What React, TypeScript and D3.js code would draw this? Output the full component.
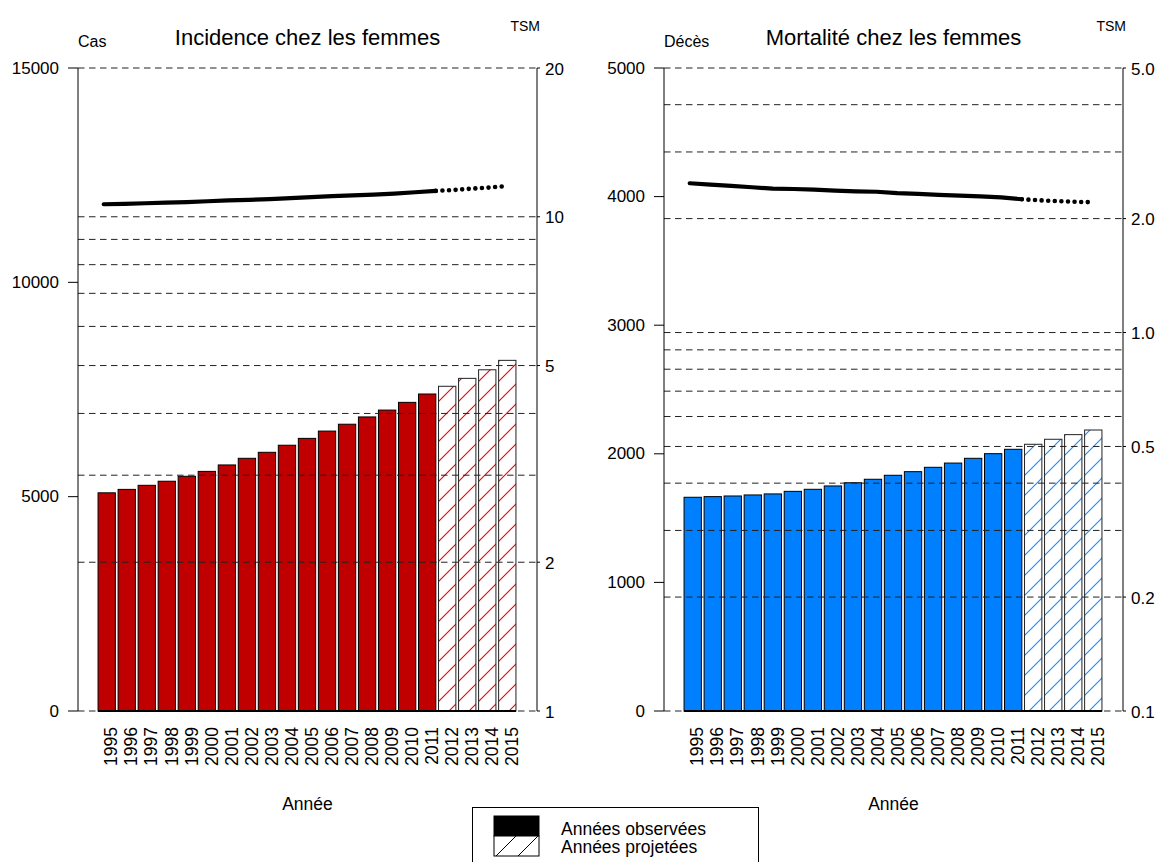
import React from 'react';
import * as d3 from 'd3';

// ---------- data ----------
const years = ['1995', '1996', '1997', '1998', '1999', '2000', '2001', '2002', '2003', '2004', '2005',
  '2006', '2007', '2008', '2009', '2010', '2011', '2012', '2013', '2014', '2015'];
const firstProjectedYear = '2012';

const incidenceCases = [5090, 5170, 5265, 5360, 5475, 5590, 5740, 5895, 6035, 6200, 6360,
  6530, 6690, 6860, 7020, 7200, 7395, 7575, 7760, 7960, 8180];
const mortalityDeaths = [1662, 1667, 1672, 1680, 1688, 1708, 1724, 1750, 1775, 1802, 1833,
  1861, 1895, 1928, 1965, 2001, 2035, 2074, 2113, 2149, 2185];

// TSM (standardised rates) – observed 1995–2011, projected 2012–2015
const incidenceTsmObserved = [10.60, 10.62, 10.65, 10.68, 10.71, 10.75, 10.79, 10.82, 10.86,
  10.91, 10.96, 11.01, 11.05, 11.09, 11.14, 11.21, 11.28];
const incidenceTsmProjected = [11.33, 11.40, 11.46, 11.54];
const mortalityTsmObserved = [2.48, 2.46, 2.44, 2.42, 2.40, 2.395, 2.385, 2.37, 2.36, 2.355,
  2.335, 2.325, 2.31, 2.30, 2.29, 2.275, 2.25];
const mortalityTsmProjected = [2.235, 2.225, 2.215, 2.21];

const incidenceLeftTicks = [0, 5000, 10000, 15000];
const mortalityLeftTicks = [0, 1000, 2000, 3000, 4000, 5000];
const incidenceTsmTicks = ['1', '2', '5', '10', '20'];
const mortalityTsmTicks = ['0.1', '0.2', '0.5', '1.0', '2.0', '5.0'];
const incidenceTsmGrid = [1, 2, 3, 4, 5, 6, 7, 8, 9, 10, 20];
const mortalityTsmGrid = [0.1, 0.2, 0.3, 0.4, 0.5, 0.6, 0.7, 0.8, 0.9, 1, 2, 3, 4, 5];

const legendLabels = ['Années observées', 'Années projetées'];

// ---------- layout ----------
const W = 1155;
const H = 862;
const TOP = 68;
const BOTTOM = 711;
const PLOT_L = 78;
const PLOT_R = 537;
const PANEL_OFFSET = 586;
const FONT = '"Liberation Sans", Arial, Helvetica, sans-serif';

interface PanelProps {
  dx: number;
  title: string;
  leftLabel: string;
  values: number[];
  leftMax: number;
  leftTicks: number[];
  tsmDomain: [number, number];
  tsmGrid: number[];
  tsmTicks: string[];
  tsmObs: number[];
  tsmProj: number[];
  fill: string;
  hatchId: string;
}

function Panel(p: PanelProps) {
  const L = PLOT_L + p.dx;
  const R = PLOT_R + p.dx;
  const x = d3.scaleBand<string>().domain(years)
    .range([L + 18.7, R - 19.7]).paddingInner(0.135).paddingOuter(0.0675);
  const bw = x.bandwidth();
  const y = d3.scaleLinear().domain([0, p.leftMax]).range([BOTTOM, TOP]);
  const yT = d3.scaleLog().domain(p.tsmDomain).range([BOTTOM, TOP]);
  const projIdx = years.indexOf(firstProjectedYear);
  const lastObsYear = +years[projIdx - 1];
  const xl = d3.scaleLinear()
    .domain([+years[0], lastObsYear, +years[years.length - 1]])
    .range([(x(years[0]) as number) + bw / 2 - 3, (x(String(lastObsYear)) as number) + bw,
      (x(years[years.length - 1]) as number) + bw / 2]);
  const line = d3.line<[number, number]>().x(d => xl(d[0])).y(d => yT(d[1])).curve(d3.curveLinear);
  const obsPts: [number, number][] = p.tsmObs.map((v, i) => [+years[i], v]);
  const projPts: [number, number][] = [[lastObsYear, p.tsmObs[p.tsmObs.length - 1]],
    ...p.tsmProj.map((v, i) => [+years[projIdx + i], v] as [number, number])];
  const cx = (L + R) / 2;

  return (
    <g>
      {/* bars */}
      {years.map((yr, i) => {
        const projected = i >= projIdx;
        return (
          <rect key={yr} x={x(yr)} y={y(p.values[i])} width={bw} height={BOTTOM - y(p.values[i])}
            fill={projected ? `url(#${p.hatchId})` : p.fill}
            stroke={projected ? '#222' : '#000'} strokeWidth={1} />
        );
      })}
      {/* gridlines */}
      {p.tsmGrid.map(v => (
        <line key={v} x1={L} x2={R} y1={yT(v)} y2={yT(v)} stroke="#222" strokeWidth={1}
          strokeDasharray="6.5,4.5" />
      ))}
      {/* baseline under bars */}
      <line x1={x(years[0])} x2={(x(years[years.length - 1]) as number) + bw} y1={BOTTOM} y2={BOTTOM}
        stroke="#000" strokeWidth={2} />
      {/* left axis */}
      <line x1={L} x2={L} y1={TOP} y2={BOTTOM} stroke="#000" strokeWidth={1} />
      {p.leftTicks.map(t => (
        <g key={t}>
          <line x1={L - 10} x2={L} y1={y(t)} y2={y(t)} stroke="#000" strokeWidth={1} />
          <text x={L - 19} y={y(t)} textAnchor="end" dominantBaseline="central" fontSize={17}
            fontFamily={FONT}>{t}</text>
        </g>
      ))}
      {/* right axis */}
      <line x1={R} x2={R} y1={TOP} y2={BOTTOM} stroke="#000" strokeWidth={1} />
      {p.tsmTicks.map(t => (
        <g key={t}>
          <line x1={R} x2={R + 3} y1={yT(+t)} y2={yT(+t)} stroke="#000" strokeWidth={1} />
          <text x={R + 8} y={yT(+t) + 1} textAnchor="start" dominantBaseline="central" fontSize={17}
            fontFamily={FONT}>{t}</text>
        </g>
      ))}
      {/* year labels */}
      {years.map(yr => (
        <text key={yr} transform={`translate(${(x(yr) as number) + bw / 2 + 4.7},727) rotate(-90)`}
          textAnchor="end" dominantBaseline="central" fontSize={17.5} fontFamily={FONT}>{yr}</text>
      ))}
      {/* TSM lines */}
      <path d={line(obsPts) || ''} fill="none" stroke="#000" strokeWidth={4.2} strokeLinecap="round"
        strokeLinejoin="round" />
      <path d={line(projPts) || ''} fill="none" stroke="#000" strokeWidth={4.6} strokeLinecap="round"
        strokeDasharray="0,6.6" />
      {/* titles */}
      <text x={cx} y={45} textAnchor="middle" fontSize={22} fontFamily={FONT}>{p.title}</text>
      <text x={L} y={47} textAnchor="start" fontSize={16} fontFamily={FONT}>{p.leftLabel}</text>
      <text x={R + 3} y={31} textAnchor="end" fontSize={14} fontFamily={FONT}>TSM</text>
      <text x={cx} y={810} textAnchor="middle" fontSize={17.5} fontFamily={FONT}>Année</text>
    </g>
  );
}

function Hatch({ id, color }: { id: string; color: string }) {
  const s = 20;
  return (
    <pattern id={id} patternUnits="userSpaceOnUse" width={s} height={s}>
      <rect width={s} height={s} fill="#fff" />
      <path d={`M0,${s} L${s},0 M${-s / 2},${s / 2} L${s / 2},${-s / 2} M${s / 2},${s * 1.5} L${s * 1.5},${s / 2}`}
        stroke={color} strokeWidth={1.1} />
    </pattern>
  );
}

export default function App() {
  return (
    <svg width={W} height={H} style={{ position: 'absolute', left: 0, top: 0, background: '#fff' }}>
      <defs>
        <Hatch id="hatchRed" color="#f00000" />
        <Hatch id="hatchBlue" color="#1a8cff" />
        <pattern id="hatchBlack" patternUnits="userSpaceOnUse" width={22} height={22} x={494} y={836}>
          <rect width={22} height={22} fill="#fff" />
          <path d="M0,22 L22,0 M-11,11 L11,-11 M11,33 L33,11" stroke="#000" strokeWidth={1} />
        </pattern>
      </defs>
      <rect x={0} y={0} width={W} height={H} fill="#fff" />
      <Panel dx={0} title="Incidence chez les femmes" leftLabel="Cas" values={incidenceCases}
        leftMax={15000} leftTicks={incidenceLeftTicks} tsmDomain={[1, 20]} tsmGrid={incidenceTsmGrid}
        tsmTicks={incidenceTsmTicks} tsmObs={incidenceTsmObserved} tsmProj={incidenceTsmProjected}
        fill="#c00000" hatchId="hatchRed" />
      <Panel dx={PANEL_OFFSET} title="Mortalité chez les femmes" leftLabel="Décès" values={mortalityDeaths}
        leftMax={5000} leftTicks={mortalityLeftTicks} tsmDomain={[0.1, 5]} tsmGrid={mortalityTsmGrid}
        tsmTicks={mortalityTsmTicks} tsmObs={mortalityTsmObserved} tsmProj={mortalityTsmProjected}
        fill="#0080ff" hatchId="hatchBlue" />
      {/* legend */}
      <g>
        <rect x={472.5} y={807.5} width={286} height={70} fill="#fff" stroke="#000" strokeWidth={1} />
        <rect x={494} y={816} width={45} height={20} fill="#000" stroke="#000" />
        <rect x={494} y={836} width={45} height={20} fill="url(#hatchBlack)" stroke="#000" />
        {legendLabels.map((t, i) => (
          <text key={t} x={561} y={835 + i * 18} fontSize={17.5} fontFamily={FONT}>{t}</text>
        ))}
      </g>
    </svg>
  );
}
